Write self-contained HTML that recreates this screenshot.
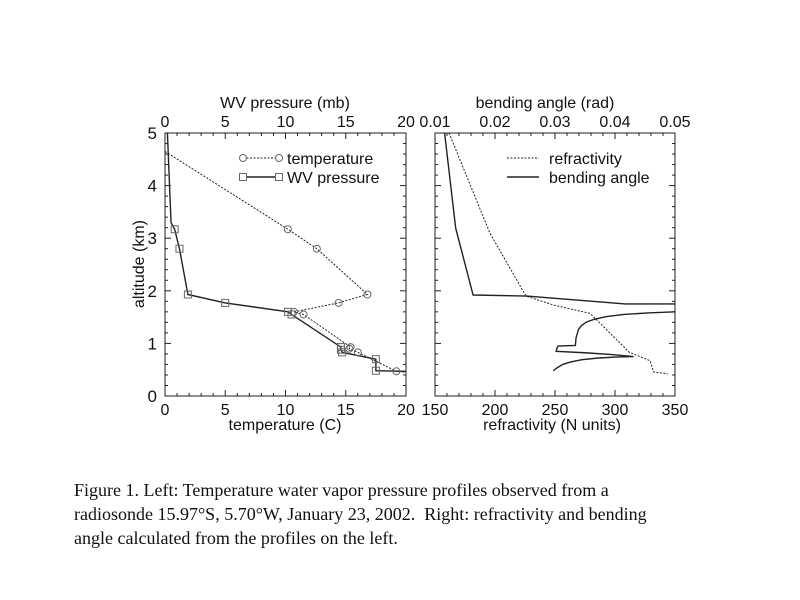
<!DOCTYPE html>
<html><head><meta charset="utf-8"><style>
body{margin:0;background:#fff;}
svg{display:block;font-family:"Liberation Sans",sans-serif;}
.cap{font-family:"Liberation Serif",serif;font-size:18px;fill:#111;white-space:pre;}
</style></head><body>
<svg id="c" width="800" height="600"></svg>
<script>
const tempAlt=[4.65,3.17,2.8,1.93,1.77,1.6,1.55,0.93,0.9,0.83,0.47,0.45];
const tempVal=[0,10.2,12.6,16.8,14.4,10.7,11.5,15.4,15.3,16.0,19.2,20];
const tempMark=[0,1,1,1,1,1,1,1,1,1,1,0];
const wvAlt=[5,3.3,3.17,2.8,1.93,1.77,1.6,1.55,0.93,0.88,0.83,0.7,0.48,0.47];
const wvVal=[0.2,0.5,0.8,1.2,1.9,5,10.2,10.5,14.6,14.6,14.7,17.5,17.5,20];
const wvMark=[0,0,1,1,1,1,1,1,1,1,1,1,1,0];
const refAlt=[5,3.1,1.9,1.73,1.57,0.83,0.67,0.46,0.42];
const refVal=[161.7,195.7,225.8,248.6,279.3,312,329.3,332,344];
const bendAlt=[5,3.19,1.92,1.9,1.75,1.75];
const bendVal=[0.0116,0.01345,0.01635,0.0253,0.0417,0.05];
const bend2Alt=[1.6,1.58,1.55,1.51,1.46,1.41,1.34,1.26,1.1,0.96,0.95,0.9,0.85,0.82,0.79,0.75,0.74,0.72,0.69,0.65,0.6,0.54,0.48];
const bend2Val=[0.05,0.0455,0.0415,0.0386,0.0366,0.0353,0.0344,0.0339,0.0335,0.0334,0.0305,0.0303,0.0302,0.0353,0.0392,0.0431,0.040,0.037,0.0345,0.0327,0.0313,0.0304,0.0297];
const altTicks=[0,1,2,3,4,5];
const NS="http://www.w3.org/2000/svg";
const svg=document.getElementById('c');
function el(t,a,p){const e=document.createElementNS(NS,t);for(const k in a)e.setAttribute(k,a[k]);(p||svg).appendChild(e);return e;}
function txt(x,y,s,a){const e=el('text',Object.assign({x:x,y:y,'font-size':16,fill:'#111','text-anchor':'middle'},a||{}));e.textContent=s;return e;}
const Y0=396,Y1=133;
const yA=a=>Y0-(a/5)*(Y0-Y1);
function panel(name,x0,x1){
  const g=el('g',{});
  
  
  el('rect',{x:x0,y:Y1,width:x1-x0,height:Y0-Y1,fill:'none',stroke:'#222','stroke-width':1},g);
  for(let a=0;a<=5.001;a+=0.2){const y=yA(a);const L=Math.abs(a-Math.round(a))<0.01?6:3;
    el('line',{x1:x0,x2:x0+L,y1:y,y2:y,stroke:'#222'},g);el('line',{x1:x1,x2:x1-L,y1:y,y2:y,stroke:'#222'},g);}
  return g;
}
function xticks(g,x0,x1,lo,hi,minor,major,labels,top,fmt){
  const sx=v=>x0+(v-lo)/(hi-lo)*(x1-x0);
  const n=Math.round((hi-lo)/minor);
  for(let i=0;i<=n;i++){const v=lo+i*minor;const isM=Math.abs((v-lo)/major-Math.round((v-lo)/major))<1e-6;const L=isM?6:3;const x=sx(v);
    if(top)el('line',{x1:x,x2:x,y1:Y1,y2:Y1+L,stroke:'#222'},g);else el('line',{x1:x,x2:x,y1:Y0,y2:Y0-L,stroke:'#222'},g);}
  labels.forEach(v=>{const t=txt(sx(v),top?127:415,fmt(v));});
}
const LX0=165,LX1=406;
const gl=panel('left-plot',LX0,LX1);
xticks(gl,LX0,LX1,0,20,1,5,[0,5,10,15,20],true,v=>String(v));
xticks(gl,LX0,LX1,0,20,1,5,[0,5,10,15,20],false,v=>String(v));
altTicks.forEach(a=>{const t=txt(157,yA(a)+6,String(a),{'text-anchor':'end','font-size':17});});
let t=txt(285,108,'WV pressure (mb)');
t=txt(285,430,'temperature (C)');
t=txt(0,0,'altitude (km)',{transform:'translate(144,264) rotate(-90)'});
const lx=v=>LX0+v/20*(LX1-LX0);
function series(name,vals,alts,sx,dash,w){const p=el('polyline',{points:vals.map((v,i)=>sx(v)+','+yA(alts[i])).join(' '),fill:'none',stroke:'#222','stroke-width':w,'stroke-dasharray':dash});return p;}
series('temperature-line',tempVal,tempAlt,lx,'2,1.5',1);
series('wv-pressure-line',wvVal,wvAlt,lx,'none',1.4);
tempVal.forEach((v,i)=>{if(!tempMark[i])return;const c=el('circle',{cx:lx(v),cy:yA(tempAlt[i]),r:3.5,fill:'none',stroke:'#666'});});
wvVal.forEach((v,i)=>{if(!wvMark[i])return;const r=el('rect',{x:lx(v)-3.5,y:yA(wvAlt[i])-3.5,width:7,height:7,fill:'none',stroke:'#666'});});
el('line',{x1:243,x2:279,y1:158,y2:158,stroke:'#222','stroke-dasharray':'2,1.5'});
el('circle',{cx:243,cy:158,r:3.5,fill:'#fff',stroke:'#666'});el('circle',{cx:279,cy:158,r:3.5,fill:'#fff',stroke:'#666'});
t=txt(287,164,'temperature',{'text-anchor':'start'});
el('line',{x1:243,x2:279,y1:177,y2:177,stroke:'#222','stroke-width':1.4});
el('rect',{x:239.5,y:173.5,width:7,height:7,fill:'#fff',stroke:'#666'});el('rect',{x:275.5,y:173.5,width:7,height:7,fill:'#fff',stroke:'#666'});
t=txt(287,183,'WV pressure',{'text-anchor':'start'});
const RX0=435,RX1=675;
const gr=panel('right-plot',RX0,RX1);
xticks(gr,RX0,RX1,0.01,0.05,0.002,0.01,[0.01,0.02,0.03,0.04,0.05],true,v=>v.toFixed(2));
xticks(gr,RX0,RX1,150,350,10,50,[150,200,250,300,350],false,v=>String(v));
t=txt(545,108,'bending angle (rad)');
t=txt(552,430,'refractivity (N units)');
const rxN=v=>RX0+(v-150)/200*(RX1-RX0);
const rxB=v=>RX0+(v-0.01)/0.04*(RX1-RX0);
series('refractivity-line',refVal,refAlt,rxN,'2,1.5',1);
series('bending-angle-line',bendVal,bendAlt,rxB,'none',1.4);
series('bending-angle-lower-line',bend2Val,bend2Alt,rxB,'none',1.4);
el('line',{x1:507,x2:539,y1:158,y2:158,stroke:'#222','stroke-dasharray':'2,1.5'});
t=txt(549,164,'refractivity',{'text-anchor':'start'});
el('line',{x1:507,x2:539,y1:177,y2:177,stroke:'#222','stroke-width':1.4});
t=txt(549,183,'bending angle',{'text-anchor':'start'});
const cap=['Figure 1. Left: Temperature water vapor pressure profiles observed from a','radiosonde 15.97°S, 5.70°W, January 23, 2002.  Right: refractivity and bending','angle calculated from the profiles on the left.'];
cap.forEach((s,i)=>{const e=el('text',{x:74,y:496+i*24,class:'cap'});e.textContent=s;});
</script>
</body></html>
